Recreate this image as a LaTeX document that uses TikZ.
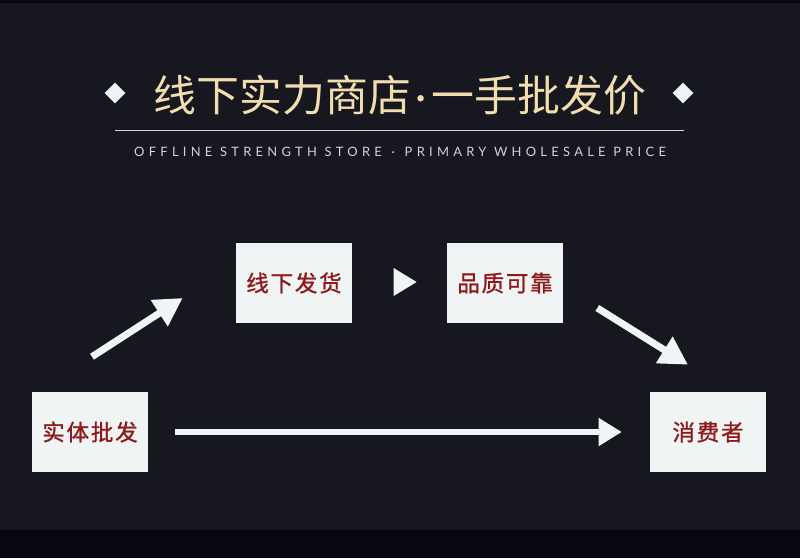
\documentclass[tikz,border=0pt]{standalone}
\usepackage{fontspec}
\setmainfont{Lato}
\newfontfamily\cjkfont{Noto Sans CJK SC}
\newfontfamily\cjkboxfont[LetterSpace=8, FakeBold=1.2]{Noto Sans CJK SC}
\newfontfamily\subfont[LetterSpace=33]{Lato}
\usetikzlibrary{shapes.geometric,arrows.meta,positioning}

\definecolor{bgdark}{HTML}{16171F}
\definecolor{bgband}{HTML}{06070F}
\definecolor{gold}{HTML}{F2DDAE}
\definecolor{boxfill}{HTML}{F1F4F5}
\definecolor{boxtext}{HTML}{8E1B1B}
\definecolor{subgray}{HTML}{D2D4D8}

\begin{document}
\begin{tikzpicture}[
    x=0.025cm, y=-0.025cm,
    stepbox/.style={rectangle, fill=boxfill, minimum width=2.9cm, minimum height=2cm, inner sep=0pt, text=boxtext, font=\cjkboxfont\fontsize{16}{16}\selectfont},
    marker/.style={diamond, fill=boxfill, minimum size=0.52cm, inner sep=0pt},
    bigarrow/.style={draw=boxfill, line width=5pt, -{Triangle[length=0.7cm, width=0.74cm]}},
    longarrow/.style={draw=boxfill, line width=3.6pt, -{Triangle[length=0.58cm, width=0.68cm]}},
    playtri/.style={isosceles triangle, isosceles triangle stretches, fill=boxfill, minimum width=0.7cm, minimum height=0.575cm, inner sep=0pt}
]

% Background
\fill[bgdark] (0,0) rectangle (800,558);
\fill[bgband] (0,530) rectangle (800,558);
\fill[bgband] (0,0) rectangle (800,3);
\useasboundingbox (0,0) rectangle (800,558);

% Heading
\node[text=gold, font=\cjkfont\fontsize{30.5}{32}\selectfont] (title) at (400,95) {线下实力商店\hspace{3.5pt}{\fontspec{Lato}·}\hspace{3.5pt}一手批发价};
\node[marker] (dleft) at (115,93) {};
\node[marker] (dright) at (683,93) {};
\coordinate (lineL) at (115,130);
\coordinate (lineR) at (684,130);
\draw[subgray, line width=0.7pt] (lineL) -- (lineR);
\node[text=subgray, font=\subfont\fontsize{9.2}{10}\selectfont] (subtitle) at (400,152) {OFFLINE STRENGTH STORE \,·\, PRIMARY WHOLESALE PRICE};

% Flow boxes
\node[stepbox] (wholesale) at (90,432) {实体批发};
\node[stepbox] (offline) at (294,283) {线下发货};
\node[stepbox] (quality) at (505,283) {品质可靠};
\node[stepbox] (consumer) at (708,432) {消费者};
\node[playtri] (tri) at (401.5,282) {};

% Arrows
\draw[bigarrow] ([shift={(2,-35)}]wholesale.north) -- ([shift={(-53,15)}]offline.west);
\draw[bigarrow] ([shift={(34,25)}]quality.east) -- ([shift={(-20,-27)}]consumer.north);
\draw[longarrow] ([xshift=0.675cm]wholesale.east) -- ([xshift=-0.7cm]consumer.west);

\end{tikzpicture}
\end{document}
